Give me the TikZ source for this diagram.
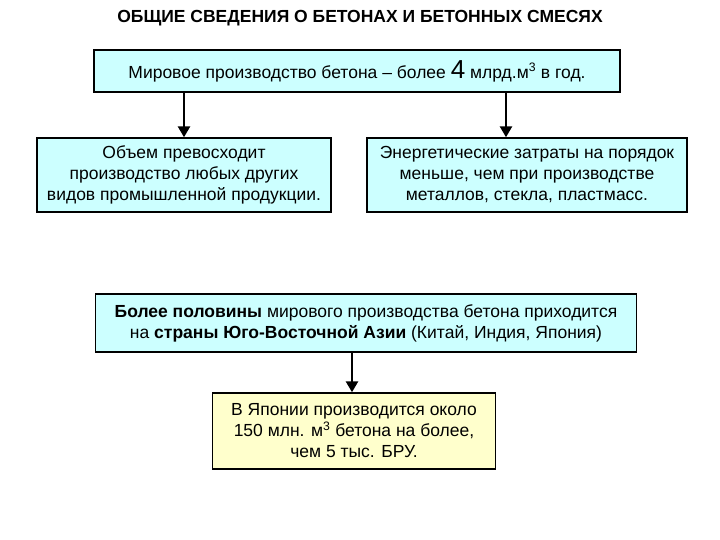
\documentclass[tikz,border=0pt]{standalone}
\usepackage{fontspec}
\setmainfont{Liberation Sans}
\usetikzlibrary{arrows.meta}
\definecolor{cy}{HTML}{CCFFFF}
\definecolor{yl}{HTML}{FFFFCC}
\begin{document}
\begin{tikzpicture}[x=1pt,y=-1pt,
 bx/.style={draw=black,line width=1.4pt,fill=cy,align=center,inner sep=0pt,font=\fontsize{17.5}{21}\selectfont},
 ar/.style={line width=2.6pt,-{Triangle[length=11pt,width=12pt]}}]
\useasboundingbox[fill=white] (0,0) rectangle (720,540);
\node[font=\bfseries\fontsize{17.5}{20}\selectfont] (t) at (360,18) {ОБЩИЕ СВЕДЕНИЯ О БЕТОНАХ И БЕТОННЫХ СМЕСЯХ};
\node[bx,minimum width=526,minimum height=42] (a) at (357,71) {Мировое производство бетона – более {\fontsize{26}{26}\selectfont 4} млрд.м\textsuperscript{3} в год.};
\node[bx,minimum width=294,minimum height=74] (b) at (184,175) {Объем превосходит\\производство любых других\\видов промышленной продукции.};
\node[bx,minimum width=320,minimum height=74] (c) at (527,175) {Энергетические затраты на порядок\\меньше, чем при производстве\\металлов, стекла, пластмасс.};
\node[bx,minimum width=541,minimum height=58] (d) at (366,323) {\textbf{Более половины} мирового производства бетона приходится\\на \textbf{страны Юго-Восточной Азии} (Китай, Индия, Япония)};
\node[bx,fill=yl,minimum width=283,minimum height=76] (e) at (354,431) {В Японии производится около\\150 млн. м\textsuperscript{3} бетона на более,\\чем 5 тыс. БРУ.};
\draw[ar] (a.south -| b.north) -- (b.north);
\draw[ar] (a.south -| 506,0) -- (c.north -| 506,0);
\draw[ar] (d.south -| 352,0) -- (e.north -| 352,0);
\end{tikzpicture}
\end{document}
